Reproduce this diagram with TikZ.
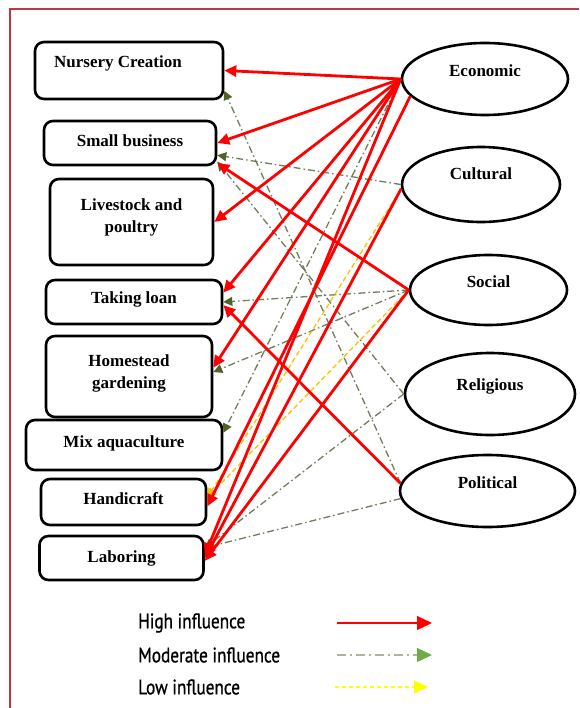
\documentclass[tikz,border=0pt]{standalone}
\usepackage{fontspec}
\setmainfont{Liberation Serif}
\newfontfamily\legendfont[FakeStretch=0.82, FakeBold=0.8]{PT Sans}
\usetikzlibrary{shapes.geometric}
\usetikzlibrary{arrows.meta}
\definecolor{framered}{HTML}{C0363E}
\definecolor{modline}{HTML}{6F7D5C}
\definecolor{modhead}{HTML}{4F6228}
\definecolor{lowline}{HTML}{FFC000}
\definecolor{legmodline}{HTML}{A9B59C}
\definecolor{legmodhead}{HTML}{70AD47}
\definecolor{leglow}{HTML}{FFFF00}

\begin{document}
\begin{tikzpicture}[x=1pt, y=-1pt,
		box/.style={draw, line width=2.6pt, rounded corners=9pt, inner sep=0pt, font=\fontsize{17}{22}\selectfont\bfseries},
		aspect/.style={draw, ellipse, line width=2.6pt, inner sep=0pt, font=\fontsize{17}{22}\selectfont\bfseries},
		high/.style={draw=red, line width=2.8pt, -{Triangle[length=12pt, width=11pt]}},
		moderate/.style={draw=modline, line width=1.3pt, dash pattern=on 7pt off 3pt on 1.5pt off 3pt, -{Triangle[length=9pt, width=9pt, color=modhead]}},
		low/.style={draw=lowline, line width=1.3pt, dash pattern=on 5pt off 3pt, -{Triangle[length=9pt, width=9pt, color=lowline]}},
		legend/.style={anchor=west, inner sep=0pt, font=\legendfont\fontsize{21}{24}\selectfont}]
		\useasboundingbox (0,0) rectangle (579,708);
		\draw[framered, line width=2pt] (579,9) -- (10,9) -- (10,708);
		\node[box, minimum width=188, minimum height=57] (nursery) at (129,70.5) {\raisebox{17pt}{Nursery Creation}\hspace*{22pt}};
		\node[box, minimum width=172, minimum height=44] (small) at (130,143) {\raisebox{4pt}{Small business}};
		\node[box, minimum width=163, minimum height=86] (livestock) at (131.5,222) {\raisebox{28pt}{\begin{tabular}{@{}c@{}}Livestock and\\poultry\end{tabular}}};
		\node[box, minimum width=176, minimum height=44] (loan) at (134,302) {\raisebox{8pt}{Taking loan}};
		\node[box, minimum width=166, minimum height=81] (homestead) at (129,376.5) {\raisebox{25pt}{\begin{tabular}{@{}c@{}}Homestead\\gardening\end{tabular}}};
		\node[box, minimum width=196, minimum height=50] (mix) at (124,445) {\raisebox{6pt}{Mix aquaculture}};
		\node[box, minimum width=165, minimum height=46] (handicraft) at (123.5,502) {\raisebox{6pt}{Handicraft}};
		\node[box, minimum width=164, minimum height=44] (laboring) at (121.5,558) {\raisebox{2pt}{Laboring}};
		\node[aspect, minimum width=166, minimum height=72] (economic) at (485,79) {\raisebox{16pt}{Economic}};
		\node[aspect, minimum width=158, minimum height=75] (cultural) at (481,184.5) {\raisebox{21pt}{Cultural}};
		\node[aspect, minimum width=157, minimum height=70] (social) at (488.5,290) {\raisebox{16pt}{Social}};
		\node[aspect, minimum width=170, minimum height=82] (religious) at (490,394) {\raisebox{18pt}{Religious}};
		\node[aspect, minimum width=175, minimum height=72] (political) at (487.5,491) {\raisebox{16pt}{Political}};
		\draw[moderate] (political.175) -- (nursery.-12);
		\draw[moderate] (cultural.west) -- (small.-8);
		\draw[moderate] (religious.west) -- (small.-12);
		\draw[moderate] (social.west) -- (loan.east);
		\draw[moderate] (social.west) -- (homestead.3);
		\draw[moderate] (economic.west) -- (mix.7);
		\draw[moderate] (religious.west) -- (laboring.7);
		\draw[moderate] (political.185) -- (laboring.7);
		\draw[low] (cultural.183) -- (handicraft.3);
		\draw[low] (social.west) -- (handicraft.3);
		\draw[high] (economic.west) -- (nursery.east);
		\draw[high] (economic.west) -- (small.east);
		\draw[high] (economic.west) -- (livestock.east);
		\draw[high] (economic.west) -- (loan.6);
		\draw[high] (economic.west) -- (homestead.6);
		\draw[high] (economic.193) -- (handicraft.-3);
		\draw[high] (economic.west) -- (laboring.2);
		\draw[high] (cultural.183) -- (laboring.0);
		\draw[high] (social.west) -- (small.-13);
		\draw[high] (social.west) -- (laboring.-2);
		\draw[high] (political.175) -- (loan.-2);
		\node[legend] (hightxt) at (138,623) {High influence};
		\node[legend] (modtxt) at (138,655) {Moderate influence};
		\node[legend] (lowtxt) at (138,687) {Low influence};
		\coordinate (highstart) at (337,623);
		\coordinate (highend) at (432,623);
		\coordinate (modstart) at (337,655);
		\coordinate (modend) at (432,655);
		\coordinate (lowstart) at (335,687);
		\coordinate (lowend) at (428,687);
		\draw[red, line width=1.4pt, -{Triangle[length=15pt, width=14pt]}] (highstart) -- (highend);
		\draw[legmodline, line width=1.4pt, dash pattern=on 9pt off 4pt on 2pt off 4pt, -{Triangle[length=15pt, width=14pt, color=legmodhead]}] (modstart) -- (modend);
		\draw[leglow, line width=1.4pt, dash pattern=on 4pt off 3pt, -{Triangle[length=14pt, width=13pt]}] (lowstart) -- (lowend);
	\end{tikzpicture}
\end{document}
